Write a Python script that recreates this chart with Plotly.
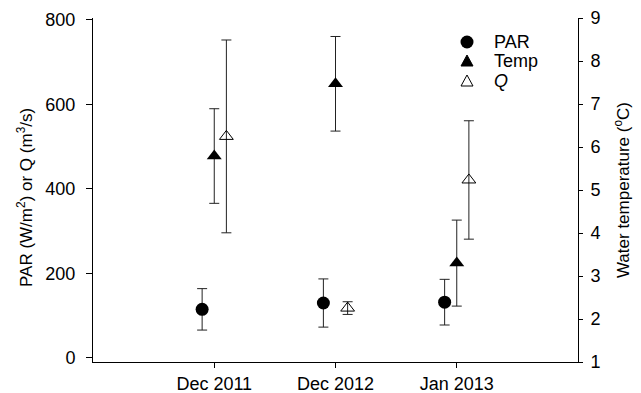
import plotly.graph_objects as go

categories = ["Dec 2011", "Dec 2012", "Jan 2013"]
cat_pos = [1, 2, 3]
par_vals = [115, 130, 132]
par_err = [49, 57, 54]
temp_vals = [5.79, 7.47, 3.30]
temp_err = [1.1, 1.1, 1.0]
q_vals = [524, 118, 421]
q_err = [228, 15, 140]
offsets = [-0.1, 0.0, 0.1]
legend_labels = ["PAR", "Temp", "<i>Q</i>"]

FONT = "Liberation Sans, Arial, sans-serif"
W, H = 641, 393
ML, MR, MT, MB = 93, 63, 18, 31
PW, PH = W - ML - MR, H - MT - MB


def px_x(px):
    return (px - ML) / PW


def px_y(py):
    return (H - MB - py) / PH


fig = go.Figure()
fig.add_trace(go.Scatter(
    x=[p + offsets[0] for p in cat_pos], y=par_vals, mode="markers", name="PAR",
    marker=dict(symbol="circle", size=13, color="black"),
    error_y=dict(type="data", array=par_err, color="#222", thickness=1, width=5),
))
fig.add_trace(go.Scatter(
    x=[p + offsets[1] for p in cat_pos], y=temp_vals, mode="markers", name="Temp",
    yaxis="y2",
    marker=dict(symbol="triangle-up", size=13, color="black"),
    error_y=dict(type="data", array=temp_err, color="#222", thickness=1, width=5),
))
fig.add_trace(go.Scatter(
    x=[p + offsets[2] for p in cat_pos], y=q_vals, mode="markers", name="<i>Q</i>",
    marker=dict(symbol="triangle-up-open", size=12, color="black", line=dict(width=1)),
    error_y=dict(type="data", array=q_err, color="#222", thickness=1, width=5),
))

# manual legend (marker glyphs as pixel-sized shapes, labels as annotations)
leg_mx, leg_tx = 467, 492
leg_rows = [42, 61, 81]
shapes = []
annotations = []
shapes.append(dict(type="circle", xref="paper", yref="paper",
                   xsizemode="pixel", ysizemode="pixel",
                   xanchor=px_x(leg_mx), yanchor=px_y(leg_rows[0]),
                   x0=-6.5, x1=6.5, y0=-6.5, y1=6.5,
                   fillcolor="black", line=dict(color="black", width=0)))
shapes.append(dict(type="path", xref="paper", yref="paper",
                   xsizemode="pixel", ysizemode="pixel",
                   xanchor=px_x(leg_mx), yanchor=px_y(leg_rows[1]),
                   path="M -6,-5 L 6,-5 L 0,6 Z",
                   fillcolor="black", line=dict(color="black", width=1)))
shapes.append(dict(type="path", xref="paper", yref="paper",
                   xsizemode="pixel", ysizemode="pixel",
                   xanchor=px_x(leg_mx), yanchor=px_y(leg_rows[2]),
                   path="M -6,-5 L 6,-5 L 0,6 Z",
                   fillcolor="white", line=dict(color="black", width=1)))
for lab, row in zip(legend_labels, leg_rows):
    annotations.append(dict(text=lab, xref="paper", yref="paper",
                            x=px_x(leg_tx), y=px_y(row), xanchor="left", yanchor="middle",
                            showarrow=False, font=dict(size=18, family=FONT, color="black")))

annotations.append(dict(text="PAR (W/m<sup>2</sup>) or Q (m<sup>3</sup>/s)",
                        xref="paper", yref="paper", x=px_x(25), y=px_y(198),
                        xanchor="center", yanchor="middle", textangle=-90,
                        showarrow=False, font=dict(size=17, family=FONT, color="black")))

fig.update_layout(
    width=W, height=H,
    margin=dict(l=ML, r=MR, t=MT, b=MB, autoexpand=False),
    paper_bgcolor="white", plot_bgcolor="white",
    font=dict(family=FONT, size=18, color="black"),
    showlegend=False,
    shapes=shapes,
    annotations=annotations,
    xaxis=dict(range=[0, 4], tickvals=cat_pos, ticktext=categories,
               showline=True, linecolor="black", linewidth=1, automargin=False,
               ticks="outside", ticklen=5, tickcolor="black",
               showgrid=False, zeroline=False, tickfont=dict(size=18)),
    yaxis=dict(range=[-9.5, 804], tickvals=[0, 200, 400, 600, 800],
               showline=True, linecolor="black", linewidth=1, automargin=False,
               ticks="outside", ticklen=6, tickcolor="black", ticklabelstandoff=7,
               showgrid=False, zeroline=False, tickfont=dict(size=18)),
    yaxis2=dict(range=[1, 9], tickvals=list(range(1, 10)), overlaying="y", side="right",
                showline=True, linecolor="black", linewidth=1, automargin=False,
                ticks="outside", ticklen=4, tickcolor="black", ticklabelstandoff=4,
                showgrid=False, zeroline=False, tickfont=dict(size=18),
                title=dict(text="Water temperature (<sup>o</sup>C)",
                           font=dict(size=17, family=FONT, color="black"), standoff=17)),
)

fig.write_html("out.html",
               config={"displayModeBar": False},
               post_script="document.body.style.margin='0';document.body.style.overflow='hidden';")
